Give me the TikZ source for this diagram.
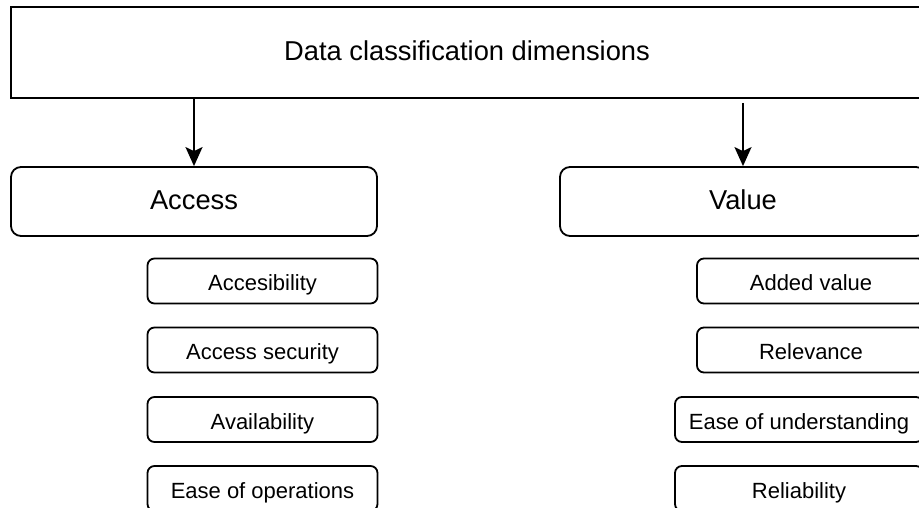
\documentclass[tikz,border=0pt]{standalone}
\usepackage{fontspec}
\setmainfont{Liberation Sans}
\usetikzlibrary{arrows.meta}
\begin{document}
\begin{tikzpicture}[x=1pt, y=-1pt,
  frame/.style={draw=black, line width=1.8pt, inner sep=0pt, align=center},
  bigtext/.style={font=\fontsize{27.3}{32}\selectfont, text height=20pt, text depth=3pt},
  smalltext/.style={font=\fontsize{22}{26}\selectfont, text height=22pt, text depth=3pt},
  headbox/.style={frame, bigtext, minimum width=912pt, minimum height=91pt},
  groupbox/.style={frame, bigtext, rounded corners=10pt, minimum width=366pt, minimum height=69pt},
  itembox/.style={frame, smalltext, rounded corners=7pt, minimum height=45pt},
  link/.style={line width=1.8pt, -{Stealth[length=19pt, width=17pt, inset=4pt]}}]
  % page area
  \useasboundingbox (0,0) rectangle (919,508);
  \clip (0,0) rectangle (919,508);

  % heading
  \node[headbox] (top) at (467,52.5) {Data classification dimensions};

  % the two groups
  \node[groupbox] (access) at (194,201.5) {Access};
  \node[groupbox] (value) at (743,201.5) {Value};

  % items of the Access group
  \node[itembox, minimum width=230pt] (acc1) at (262.5,281) {Accesibility};
  \node[itembox, minimum width=230pt] (acc2) at (262.5,350) {Access security};
  \node[itembox, minimum width=230pt] (acc3) at (262.5,419.5) {Availability};
  \node[itembox, minimum width=230pt] (acc4) at (262.5,488.5) {Ease of operations};

  % items of the Value group
  \node[itembox, minimum width=228pt] (val1) at (811,281) {Added value};
  \node[itembox, minimum width=228pt] (val2) at (811,350) {Relevance};
  \node[itembox, minimum width=248pt] (val3) at (799,419.5) {Ease of understanding};
  \node[itembox, minimum width=248pt] (val4) at (799,488.5) {Reliability};

  % connectors
  \draw[link] (top.south -| access.north) -- (access.north);
  \draw[link, shorten <=4pt] (top.south -| value.north) -- (value.north);
\end{tikzpicture}
\end{document}
